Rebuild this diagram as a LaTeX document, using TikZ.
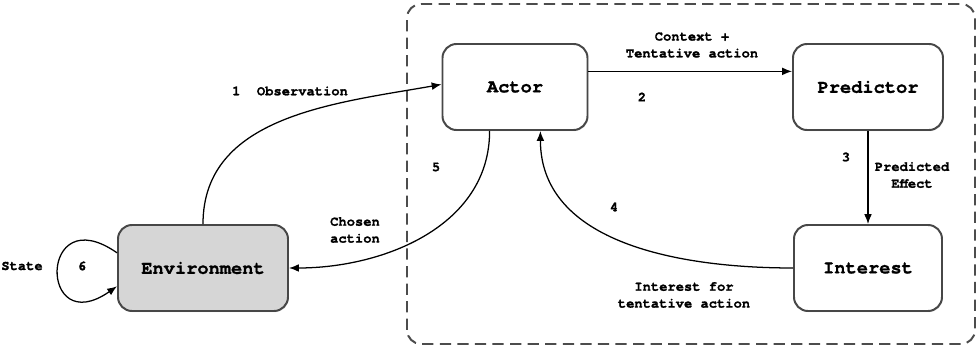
\documentclass[tikz,border=0pt]{standalone}
\usepackage{fontspec}
\setmonofont{TeX Gyre Cursor}[BoldFeatures={FakeBold=1.2}]
\usetikzlibrary{arrows.meta,shadows}

\tikzset{
	box/.style={draw=black!72, line width=1.4pt, rounded corners=0.35cm, fill=white,
		minimum width=3.625cm, minimum height=2.15cm,
		drop shadow={shadow xshift=0.6pt, shadow yshift=-0.8pt, opacity=0.25},
		font=\fontsize{13.3}{16}\selectfont\ttfamily\bfseries},
	lbl/.style={font=\fontsize{9.8}{12}\selectfont\ttfamily\bfseries, align=center},
}

\begin{document}
\begin{tikzpicture}[>={Latex[length=7pt,width=5.5pt]}, line width=0.9pt]
		\useasboundingbox (0,0) rectangle (24.5,8.725);
		\draw[black!70, line width=1.4pt, dash pattern=on 8pt off 4.5pt, rounded corners=0.35cm]
			(10.175,0.125) rectangle (24.375,8.625);

		\node[box] (actor) at (12.875,6.55) {Actor};
		\node[box, minimum width=3.75cm] (predictor) at (21.7,6.55) {Predictor};
		\node[box, minimum width=3.7cm] (interest) at (21.7,2.025) {Interest};
		\node[box, fill=black!16, minimum width=4.25cm] (env) at (5.075,2.025) {Environment};

		\node[lbl] (obs) at (7.25,6.45) {1\ \ Observation};
		\node[lbl] (ctx) at (17.3,7.6) {Context +\\Tentative action};
		\node[lbl] (n2) at (16.05,6.3) {2};
		\node[lbl] (n3) at (21.15,4.8) {3};
		\node[lbl] (pred) at (22.8,4.35) {Predicted\\Effect};
		\node[lbl] (n4) at (15.35,3.55) {4};
		\node[lbl] (n5) at (10.9,4.55) {5};
		\node[lbl] (chosen) at (8.875,2.975) {Chosen\\action};
		\node[lbl] (intfor) at (17.1,1.35) {Interest for\\tentative action};
		\node[lbl] (state) at (0.55,2.075) {State};
		\node[lbl] (n6) at (2.05,2.075) {6};

		\draw[->] (env.north) to[out=90, in=190] (actor.178);
		\draw[->] (actor.12) -- (actor.12 -| predictor.west);
		\draw[->] (predictor.south) -- (interest.north);
		\draw[->] (interest.west) to[out=180, in=-90] (actor.-60);
		\draw[->] (actor.240) to[out=-90, in=0] (env.east);
		\draw[->] (env.170) .. controls +(145:2.4) and +(215:2.4) .. (env.192);
	\end{tikzpicture}
\end{document}
